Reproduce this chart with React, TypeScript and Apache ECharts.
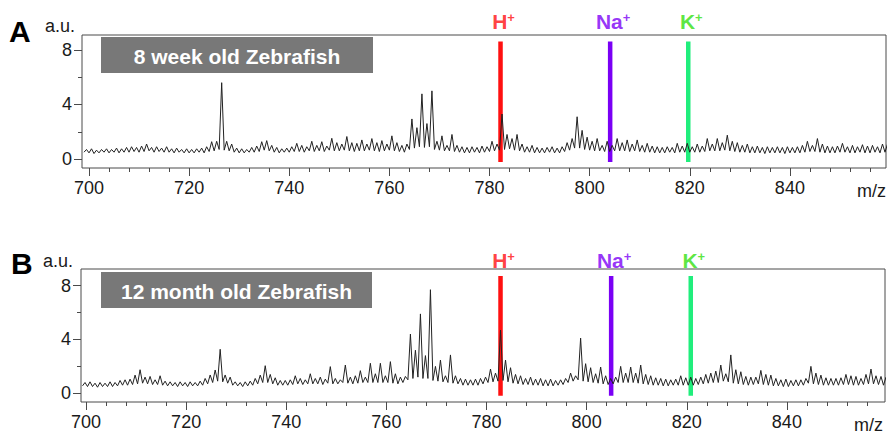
import React, { useEffect, useRef } from "react";
import * as echarts from "echarts";

// ---------------- data ----------------
const MZ_START = 699;

// Panel A (8 week) peak heights at each nominal m/z 699..859
const PEAKS_A = [
  0.7, 0.75, 0.65, 0.7, 0.75, 0.7, 0.8, 0.75, 0.85, 0.9,
  0.85, 0.95, 1.1, 0.85, 0.9, 0.8, 0.9, 0.75, 0.8, 0.7,
  0.75, 0.7, 0.75, 0.8, 0.9, 1.27, 1.3, 5.6, 1.3, 1.1,
  0.8, 0.75, 0.7, 0.85, 0.95, 1.27, 1.35, 1.0, 0.85, 0.75,
  0.8, 0.9, 1.15, 1.0, 0.9, 1.3, 1.0, 1.27, 0.95, 1.52,
  1.2, 1.1, 1.65, 1.2, 1.15, 1.4, 1.1, 1.5, 1.2, 1.35,
  1.1, 1.7, 1.2, 1.0, 1.1, 2.94, 2.3, 4.78, 2.6, 5.0,
  1.3, 1.7, 1.0, 1.8, 1.0, 0.9, 0.85, 0.9, 0.85, 0.95,
  0.9, 1.3, 1.1, 3.3, 1.8, 1.5, 1.8, 1.1, 0.9, 1.0,
  0.85, 0.8, 0.85, 0.9, 0.8, 0.9, 1.2, 1.5, 3.1, 2.1,
  1.6, 1.3, 1.5, 1.0, 1.3, 1.0, 1.5, 1.2, 1.4, 1.1,
  1.4, 1.0, 1.15, 0.95, 0.9, 0.85, 0.9, 0.85, 1.15, 0.95,
  1.15, 0.9, 1.1, 0.95, 1.5, 1.1, 1.5, 1.2, 1.75, 1.3,
  1.2, 1.0, 1.1, 0.9, 0.95, 0.85, 0.9, 0.85, 0.9, 0.85,
  0.9, 0.85, 0.9, 1.0, 1.3, 1.0, 1.5, 1.1, 0.95, 0.9,
  0.95, 1.15, 0.9, 1.0, 0.9, 1.05, 0.95, 1.0, 0.9, 1.1,
  1.1,
];
// Panel A valley heights (one before each peak)
const TROUGHS_A = [
  0.5,
  0.45, 0.4, 0.45, 0.5, 0.45, 0.5, 0.45, 0.5, 0.5, 0.55,
  0.5, 0.55, 0.6, 0.5, 0.55, 0.5, 0.5, 0.45, 0.5, 0.45,
  0.45, 0.45, 0.5, 0.45, 0.55, 0.6, 0.7, 0.65, 0.6, 0.5,
  0.45, 0.45, 0.5, 0.5, 0.55, 0.65, 0.6, 0.5, 0.45, 0.5,
  0.5, 0.55, 0.55, 0.5, 0.6, 0.55, 0.6, 0.55, 0.65, 0.6,
  0.6, 0.65, 0.6, 0.55, 0.6, 0.6, 0.65, 0.6, 0.55, 0.6,
  0.65, 0.6, 0.55, 0.5, 0.7, 0.8, 0.9, 0.85, 0.9, 0.7,
  0.65, 0.6, 0.6, 0.55, 0.5, 0.45, 0.45, 0.5, 0.45, 0.5,
  0.55, 0.6, 0.65, 0.7, 0.75, 0.65, 0.6, 0.5, 0.5, 0.45,
  0.45, 0.45, 0.5, 0.45, 0.45, 0.55, 0.65, 0.8, 0.8, 0.7,
  0.65, 0.6, 0.6, 0.55, 0.55, 0.6, 0.6, 0.6, 0.55, 0.6,
  0.55, 0.5, 0.5, 0.45, 0.45, 0.45, 0.5, 0.45, 0.5, 0.5,
  0.5, 0.5, 0.5, 0.55, 0.6, 0.6, 0.6, 0.65, 0.6, 0.55,
  0.5, 0.5, 0.45, 0.45, 0.45, 0.4, 0.45, 0.45, 0.45, 0.4,
  0.45, 0.45, 0.45, 0.5, 0.55, 0.55, 0.5, 0.45, 0.45, 0.45,
  0.5, 0.5, 0.45, 0.45, 0.5, 0.45, 0.45, 0.5, 0.45, 0.5,
];

// Panel B (12 month) peak heights at each nominal m/z 699..859
const PEAKS_B = [
  0.8, 0.85, 0.75, 0.8, 0.75, 0.85, 0.8, 0.95, 1.0, 1.05,
  1.35, 1.75, 1.2, 1.25, 1.0, 1.3, 0.9, 0.85, 0.8, 0.85,
  0.8, 0.85, 0.8, 0.9, 1.1, 1.36, 1.73, 3.27, 1.36, 1.2,
  0.85, 0.8, 0.85, 0.9, 1.1, 1.35, 2.05, 1.4, 1.15, 0.95,
  0.95, 1.0, 1.3, 1.1, 1.0, 1.45, 1.1, 1.2, 1.05, 1.98,
  1.1, 1.0, 2.1, 1.2, 1.3, 1.68, 1.2, 2.23, 1.45, 2.23,
  1.3, 2.35, 1.45, 1.2, 1.25, 4.4, 3.2, 5.9, 2.8, 7.7,
  2.0, 2.47, 1.3, 2.85, 1.3, 1.1, 1.05, 1.0, 1.05, 1.1,
  1.2, 1.8, 1.5, 4.7, 2.47, 1.9, 1.4, 1.3, 1.1, 1.2,
  1.05, 1.1, 1.0, 1.05, 0.95, 1.0, 1.1, 1.5, 1.3, 4.1,
  2.2, 1.9, 1.45, 1.95, 1.3, 1.1, 1.2, 2.0, 1.5, 1.95,
  1.5, 2.1, 1.4, 1.3, 1.15, 1.1, 1.05, 1.0, 1.05, 1.3,
  1.15, 1.2, 1.1, 1.2, 1.4, 1.5, 1.65, 2.1, 1.45, 2.85,
  1.75, 1.6, 1.25, 1.2, 1.2, 1.7, 1.4, 1.35, 1.1, 1.0,
  1.05, 0.95, 1.0, 1.0, 1.1, 2.0, 1.5, 1.35, 1.15, 1.1,
  1.1, 1.15, 1.4, 1.3, 1.25, 1.1, 1.4, 1.8, 1.3, 1.25,
  1.2,
];
const TROUGHS_B = [
  0.55,
  0.5, 0.5, 0.45, 0.5, 0.5, 0.5, 0.55, 0.6, 0.6, 0.65,
  0.7, 0.75, 0.7, 0.65, 0.65, 0.6, 0.55, 0.55, 0.5, 0.55,
  0.5, 0.55, 0.55, 0.6, 0.7, 0.8, 0.9, 0.85, 0.75, 0.6,
  0.55, 0.5, 0.55, 0.6, 0.7, 0.8, 0.8, 0.7, 0.6, 0.6,
  0.6, 0.65, 0.7, 0.65, 0.7, 0.7, 0.7, 0.65, 0.75, 0.7,
  0.7, 0.8, 0.75, 0.7, 0.75, 0.8, 0.8, 0.8, 0.8, 0.8,
  0.8, 0.75, 0.7, 0.8, 1.0, 1.1, 1.2, 1.1, 1.1, 0.95,
  0.9, 0.85, 0.8, 0.75, 0.7, 0.6, 0.6, 0.6, 0.6, 0.7,
  0.8, 0.85, 0.9, 0.95, 0.85, 0.75, 0.7, 0.65, 0.65, 0.6,
  0.6, 0.55, 0.55, 0.55, 0.6, 0.65, 0.8, 0.9, 1.0, 0.9,
  0.85, 0.8, 0.75, 0.7, 0.65, 0.7, 0.8, 0.8, 0.8, 0.8,
  0.75, 0.7, 0.65, 0.6, 0.6, 0.55, 0.55, 0.6, 0.6, 0.6,
  0.6, 0.6, 0.65, 0.7, 0.75, 0.8, 0.8, 0.9, 0.85, 0.75,
  0.7, 0.65, 0.6, 0.65, 0.7, 0.65, 0.6, 0.55, 0.55, 0.5,
  0.5, 0.55, 0.55, 0.6, 0.75, 0.7, 0.65, 0.6, 0.6, 0.6,
  0.6, 0.65, 0.65, 0.6, 0.6, 0.65, 0.7, 0.7, 0.65, 0.6,
];

const IONS = ["H", "Na", "K"];
const ION_MZ_A = [782.2, 804.1, 819.7];
const ION_MZ_B = [782.8, 804.9, 820.8];
const TITLES = ["8 week old Zebrafish", "12 month old Zebrafish"];
const LETTERS = ["A", "B"];
const Y_UNIT = "a.u.";
const X_UNIT = "m/z";

// ---------------- styles / layout ----------------
const FONT = "'Liberation Sans', Arial, Helvetica, sans-serif";
const AXIS_COLOR = "#4a4a4a";
const TEXT_COLOR = "#1a1a1a";
const ION_LINE_COLORS = ["#ff1010", "#7a00f5", "#20ee7c"];
const ION_TEXT_COLORS = ["#ff1010", "#7a00f5", "#33e010"];

const PANELS = [
  {
    peaks: PEAKS_A, troughs: TROUGHS_A, ions: ION_MZ_A, title: TITLES[0], letter: LETTERS[0],
    left: 82, top: 35, width: 804, height: 133,
    xMin: 698.6, xMax: 859.2, yMin: -0.66, yMax: 9.1, off: 0.5,
    ionLo: -0.22, ionHi: 8.62, ionLabelY: 10.1,
    box: { x: 101, y: 37, w: 272, h: 36 },
    letterPos: [9, 31], unitPos: [45, 26], mzPos: [857, 191],
  },
  {
    peaks: PEAKS_B, troughs: TROUGHS_B, ions: ION_MZ_B, title: TITLES[1], letter: LETTERS[1],
    left: 81, top: 269, width: 804, height: 133,
    xMin: 699.0, xMax: 859.6, yMin: -0.65, yMax: 9.24, off: 0.8,
    ionLo: -0.18, ionHi: 8.72, ionLabelY: 9.85,
    box: { x: 101, y: 272, w: 271, h: 36 },
    letterPos: [11, 263], unitPos: [43, 261], mzPos: [854, 425],
  },
];

function buildSpectrum(peaks: number[], troughs: number[], off: number) {
  const pts: number[][] = [];
  for (let i = 0; i < peaks.length; i++) {
    pts.push([MZ_START + i + off - 0.5, troughs[i]]);
    pts.push([MZ_START + i + off, peaks[i]]);
  }
  return pts;
}

function buildOption() {
  const grid: any[] = [];
  const xAxis: any[] = [];
  const yAxis: any[] = [];
  const series: any[] = [];
  const graphic: any[] = [];

  PANELS.forEach((p, pi) => {
    const base = pi * 4;
    const ppx = p.width / (p.xMax - p.xMin);
    const ppy = p.height / (p.yMax - p.yMin);
    const x700 = p.left + (700 - p.xMin) * ppx;
    const y8 = p.top + (p.yMax - 8) * ppy;

    // 0: data grid (box)
    grid.push({
      left: p.left, top: p.top, width: p.width, height: p.height,
      show: true, borderColor: AXIS_COLOR, borderWidth: 1, backgroundColor: "transparent",
      outerBoundsMode: "none", containLabel: false,
    });
    xAxis.push({ type: "value", gridIndex: base, min: p.xMin, max: p.xMax, show: false });
    yAxis.push({ type: "value", gridIndex: base, min: p.yMin, max: p.yMax, show: false });

    // 1: minor x ticks (every 4)
    grid.push({
      left: x700, top: p.top, width: (856 - 700) * ppx, height: p.height,
      outerBoundsMode: "none", containLabel: false,
    });
    xAxis.push({
      type: "value", gridIndex: base + 1, min: 700, max: 856, interval: 4, position: "bottom",
      axisLine: { show: false }, axisLabel: { show: false }, splitLine: { show: false },
      axisTick: { show: true, length: 4, lineStyle: { color: AXIS_COLOR, width: 1 } },
    });
    yAxis.push({ type: "value", gridIndex: base + 1, min: 0, max: 1, show: false });

    // 2: major x ticks + labels (every 20)
    grid.push({
      left: x700, top: p.top, width: 140 * ppx, height: p.height,
      outerBoundsMode: "none", containLabel: false,
    });
    xAxis.push({
      type: "value", gridIndex: base + 2, min: 700, max: 840, interval: 20, position: "bottom",
      axisLine: { show: false }, splitLine: { show: false },
      axisTick: { show: true, length: 8, lineStyle: { color: AXIS_COLOR, width: 1 } },
      axisLabel: { show: true, margin: 11, fontSize: 18, color: TEXT_COLOR, fontFamily: FONT },
    });
    yAxis.push({ type: "value", gridIndex: base + 2, min: 0, max: 1, show: false });

    // 3: y ticks + labels
    grid.push({
      left: p.left, top: y8, width: p.width, height: 8 * ppy,
      outerBoundsMode: "none", containLabel: false,
    });
    xAxis.push({ type: "value", gridIndex: base + 3, min: 0, max: 1, show: false });
    yAxis.push({
      type: "value", gridIndex: base + 3, min: 0, max: 8, interval: 4, position: "left",
      axisLine: { show: false }, splitLine: { show: false },
      axisTick: { show: true, length: 8, lineStyle: { color: AXIS_COLOR, width: 1 } },
      minorTick: { show: true, splitNumber: 2, length: 4, lineStyle: { color: AXIS_COLOR, width: 1 } },
      minorSplitLine: { show: false },
      axisLabel: { show: true, margin: 10, fontSize: 18, color: TEXT_COLOR, fontFamily: FONT },
    });

    // ion marker lines
    p.ions.forEach((mz, k) => {
      series.push({
        type: "line", xAxisIndex: base, yAxisIndex: base, z: 1,
        data: [[mz, p.ionLo], [mz, p.ionHi]],
        symbol: "none", silent: true,
        lineStyle: { color: ION_LINE_COLORS[k], width: 4.5, cap: "butt" },
      });
    });

    // spectrum
    series.push({
      type: "line", xAxisIndex: base, yAxisIndex: base, z: 3,
      data: buildSpectrum(p.peaks, p.troughs, p.off),
      symbol: "none", silent: true,
      lineStyle: { color: "#222222", width: 1 },
    });

    // ion labels
    series.push({
      type: "scatter", xAxisIndex: base, yAxisIndex: base, z: 4, clip: false, silent: true,
      symbolSize: 1, itemStyle: { color: "rgba(0,0,0,0)" },
      data: p.ions.map((mz, k) => ({
        value: [mz, p.ionLabelY],
        label: {
          show: true, position: "inside", offset: [3, 0],
          formatter: "{b|" + IONS[k] + "}{s|+}",
          rich: {
            b: { fontSize: 21, fontWeight: "bold", color: ION_TEXT_COLORS[k], fontFamily: FONT },
            s: { fontSize: 13, fontWeight: "bold", color: ION_TEXT_COLORS[k], fontFamily: FONT, verticalAlign: "top" },
          },
        },
      })),
    });

    // title box
    graphic.push({
      type: "rect", silent: true,
      shape: { x: p.box.x, y: p.box.y, width: p.box.w, height: p.box.h },
      style: { fill: "#787878" }, z: 10,
    });
    graphic.push({
      type: "text", silent: true, z: 11,
      style: {
        text: p.title, x: p.box.x + p.box.w / 2, y: p.box.y + p.box.h / 2 + 1,
        fill: "#ffffff", fontSize: 21, fontWeight: "bold", fontFamily: FONT,
        align: "center", verticalAlign: "middle",
      },
    });
    graphic.push({
      type: "text", silent: true,
      style: {
        text: p.letter, x: p.letterPos[0], y: p.letterPos[1],
        fill: "#000", fontSize: 30, fontWeight: "bold", fontFamily: FONT,
        align: "left", verticalAlign: "middle",
      },
    });
    graphic.push({
      type: "text", silent: true,
      style: {
        text: Y_UNIT, x: p.unitPos[0], y: p.unitPos[1],
        fill: TEXT_COLOR, fontSize: 18, fontFamily: FONT,
        align: "left", verticalAlign: "middle",
      },
    });
    graphic.push({
      type: "text", silent: true,
      style: {
        text: X_UNIT, x: p.mzPos[0], y: p.mzPos[1],
        fill: TEXT_COLOR, fontSize: 18, fontFamily: FONT,
        align: "left", verticalAlign: "middle",
      },
    });
  });

  return {
    animation: false,
    backgroundColor: "#ffffff",
    textStyle: { fontFamily: FONT },
    grid, xAxis, yAxis, series, graphic,
  };
}

export default function App() {
  const ref = useRef<HTMLDivElement>(null);
  useEffect(() => {
    if (!ref.current) return;
    const chart = echarts.init(ref.current, null, { renderer: "svg" });
    chart.setOption(buildOption() as any);
    return () => chart.dispose();
  }, []);
  return (
    <div
      ref={ref}
      style={{ position: "fixed", left: 0, top: 0, width: 892, height: 435, background: "#fff" }}
    />
  );
}
